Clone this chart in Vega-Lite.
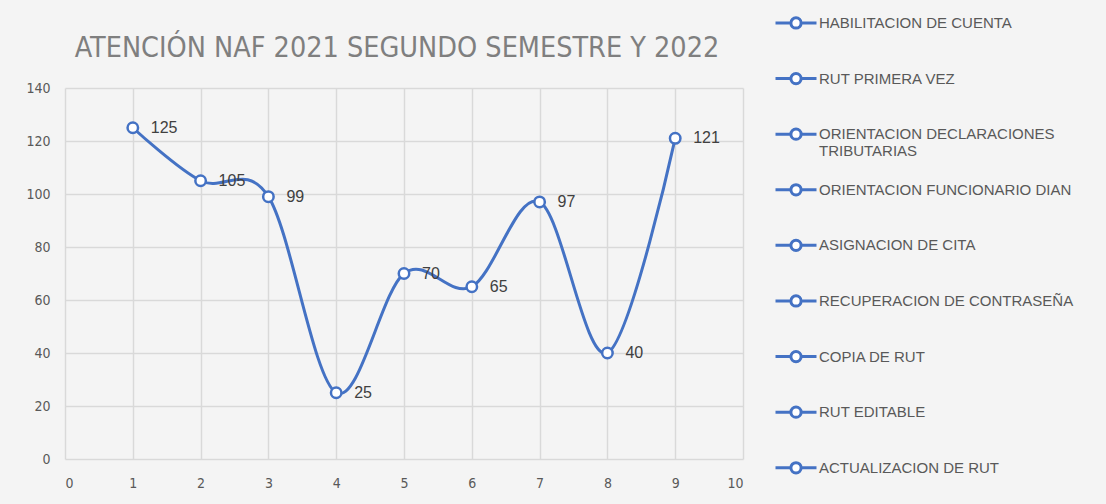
{
  "$schema": "https://vega.github.io/schema/vega-lite/v6.json",
  "width": 678,
  "height": 371,
  "autosize": {"type": "none"},
  "padding": {"left": 65, "top": 88, "right": 363, "bottom": 45},
  "background": "#f4f4f4",
  "title": {
    "text": "ATENCIÓN NAF 2021 SEGUNDO SEMESTRE Y 2022",
    "font": "DejaVu Sans Condensed",
    "fontSize": 28.5,
    "fontWeight": "normal",
    "color": "#7f7f7f",
    "anchor": "middle",
    "baseline": "alphabetic",
    "offset": 0,
    "dy": 91,
    "dx": -7
  },
  "config": {
    "view": {"stroke": null},
    "axis": {
      "grid": true,
      "gridColor": "#d9d9d9",
      "gridWidth": 1.5,
      "domain": false,
      "ticks": false,
      "labelFont": "DejaVu Sans Condensed",
      "labelFontSize": 14,
      "labelColor": "#595959",
      "title": null
    }
  },
  "data": {
    "values": [
      {"x": 1, "y": 125, "name": "HABILITACION DE CUENTA"},
      {"x": 2, "y": 105, "name": "RUT PRIMERA VEZ"},
      {"x": 3, "y": 99, "name": "ORIENTACION DECLARACIONES TRIBUTARIAS"},
      {"x": 4, "y": 25, "name": "ORIENTACION FUNCIONARIO DIAN"},
      {"x": 5, "y": 70, "name": "ASIGNACION DE CITA"},
      {"x": 6, "y": 65, "name": "RECUPERACION DE CONTRASEÑA"},
      {"x": 7, "y": 97, "name": "COPIA DE RUT"},
      {"x": 8, "y": 40, "name": "RUT EDITABLE"},
      {"x": 9, "y": 121, "name": "ACTUALIZACION DE RUT"}
    ]
  },
  "encoding": {
    "x": {
      "field": "x",
      "type": "quantitative",
      "scale": {"domain": [0, 10], "nice": false},
      "axis": {"values": [0, 1, 2, 3, 4, 5, 6, 7, 8, 9, 10], "labelPadding": 17}
    },
    "y": {
      "field": "y",
      "type": "quantitative",
      "scale": {"domain": [0, 140], "nice": false},
      "axis": {"values": [0, 20, 40, 60, 80, 100, 120, 140], "labelPadding": 15}
    }
  },
  "layer": [
    {
      "mark": {"type": "line", "interpolate": "cardinal", "color": "#4472C4", "strokeWidth": 3}
    },
    {
      "mark": {"type": "point", "shape": "circle", "filled": true, "fill": "white", "size": 110, "strokeWidth": 2.5, "opacity": 1},
      "encoding": {
        "stroke": {
          "field": "name",
          "type": "nominal",
          "scale": {
            "domain": ["HABILITACION DE CUENTA", "RUT PRIMERA VEZ", "ORIENTACION DECLARACIONES TRIBUTARIAS", "ORIENTACION FUNCIONARIO DIAN", "ASIGNACION DE CITA", "RECUPERACION DE CONTRASEÑA", "COPIA DE RUT", "RUT EDITABLE", "ACTUALIZACION DE RUT"],
            "range": ["#4472C4", "#4472C4", "#4472C4", "#4472C4", "#4472C4", "#4472C4", "#4472C4", "#4472C4", "#4472C4"]
          },
          "legend": {
            "orient": "none",
            "legendX": 709,
            "legendY": -94,
            "title": null,
            "padding": 0,
            "symbolType": "M-1,0.34H-0.25M0.25,0.34H1M0.25,0.34A0.25,0.25,0,1,1,-0.25,0.34A0.25,0.25,0,1,1,0.25,0.34",
            "symbolSize": 1681,
            "symbolStrokeWidth": 3,
            "symbolFillColor": "white",
            "labelFont": "Liberation Sans",
            "labelFontSize": 15,
            "labelColor": "#595959",
            "labelBaseline": "top",
            "labelLimit": 400,
            "labelOffset": 1,
            "rowPadding": 1.6,
            "labelExpr": "datum.label == 'ORIENTACION DECLARACIONES TRIBUTARIAS' ? ['ORIENTACION DECLARACIONES', 'TRIBUTARIAS'] : [datum.label, ' ']"
          }
        }
      }
    },
    {
      "mark": {"type": "text", "align": "left", "baseline": "middle", "dx": 18, "font": "Liberation Sans", "fontSize": 16, "color": "#404040"},
      "encoding": {"text": {"field": "y", "type": "quantitative"}}
    }
  ]
}
